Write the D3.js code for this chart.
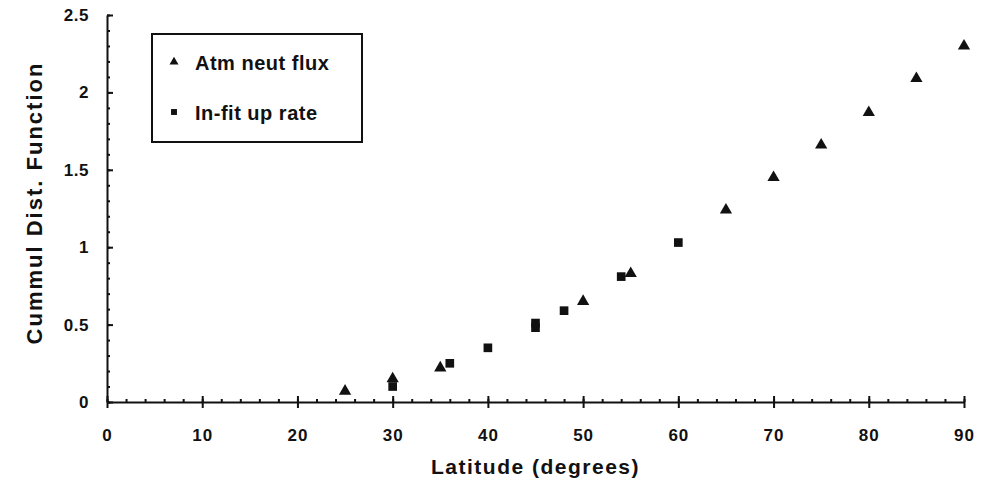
<!DOCTYPE html>
<html>
<head>
    <meta charset="utf-8">
    <script src="https://d3js.org/d3.v7.min.js"></script>
    <style>
        body { margin: 0; background: #fff; }
        text { font-family: "Liberation Sans", Arial, sans-serif; font-weight: bold; fill: #111; }
    </style>
</head>
<body>
<script>

    // Atm neut flux (triangles)
    var fluxLat = [25, 30, 35, 50, 55, 65, 70, 75, 80, 85, 90];
    var fluxCdf = [0.07, 0.15, 0.22, 0.65, 0.83, 1.24, 1.45, 1.66, 1.87, 2.09, 2.30];

    // In-fit up rate (squares)
    var rateLat = [30, 36, 40, 45, 45, 48, 54, 60];
    var rateCdf = [0.10, 0.25, 0.35, 0.48, 0.51, 0.59, 0.81, 1.03];

    var xTicks = [0, 10, 20, 30, 40, 50, 60, 70, 80, 90];
    var yTicks = [0, 0.5, 1, 1.5, 2, 2.5];
    var legendNames = ['Atm neut flux', 'In-fit up rate'];

    var width = 993, height = 485;
    var margin = {left: 107, right: 29, top: 15, bottom: 83};

    var xScale = d3.scaleLinear()
        .domain([0, 90])
        .range([margin.left, width - margin.right]);

    var yScale = d3.scaleLinear()
        .domain([0, 2.5])
        .range([height - margin.bottom, margin.top]);

    var svg = d3.select('body').append('svg')
        .attr('width', width)
        .attr('height', height);

    // minor ticks
    var xMinor = d3.range(0, 91, 2);
    var yMinor = d3.range(0, 2.51, 0.1);

    svg.append('g')
        .attr('transform', 'translate(0,' + yScale(0) + ')')
        .call(d3.axisTop(xScale).tickValues(xMinor).tickSize(3).tickFormat(''))
        .call(function(g) { g.select('.domain').remove(); });

    svg.append('g')
        .attr('transform', 'translate(' + xScale(0) + ',0)')
        .call(d3.axisRight(yScale).tickValues(yMinor).tickSize(3).tickFormat(''))
        .call(function(g) { g.select('.domain').remove(); });

    // major axes
    var gX = svg.append('g')
        .attr('transform', 'translate(0,' + yScale(0) + ')')
        .call(d3.axisBottom(xScale).tickValues(xTicks).tickSizeInner(6).tickSizeOuter(0).tickPadding(21));
    gX.selectAll('.tick line').attr('y1', -6);
    gX.selectAll('text').style('font-size', '17px').style('letter-spacing', '1px');

    var gY = svg.append('g')
        .attr('transform', 'translate(' + xScale(0) + ',0)')
        .call(d3.axisLeft(yScale).tickValues(yTicks).tickSizeInner(6).tickSizeOuter(0).tickPadding(12)
            .tickFormat(function(d) { return d === 2.5 ? '2.5' : d; }));
    gY.selectAll('.tick line').attr('x2', 6);
    gY.selectAll('text').style('font-size', '17px').style('letter-spacing', '0.5px');

    svg.selectAll('.domain, .tick line').attr('stroke', '#111').attr('stroke-width', 2);

    // axis titles
    svg.append('text')
        .attr('x', (xScale(0) + xScale(90)) / 2)
        .attr('y', 474)
        .attr('text-anchor', 'middle')
        .style('font-size', '21px')
        .style('letter-spacing', '1.5px')
        .text('Latitude (degrees)');

    svg.append('text')
        .attr('transform', 'translate(42,' + 203 + ') rotate(-90)')
        .attr('text-anchor', 'middle')
        .style('font-size', '22px')
        .style('letter-spacing', '2px')
        .text('Cummul Dist. Function');

    var tri = d3.symbol().type(d3.symbolTriangle).size(65);
    var sq = d3.symbol().type(d3.symbolSquare).size(75);

    svg.append('g').selectAll('path').data(rateLat)
        .enter().append('path')
        .attr('d', sq)
        .attr('transform', function(d, i) { return 'translate(' + xScale(d) + ',' + yScale(rateCdf[i]) + ')'; })
        .attr('fill', '#111');

    svg.append('g').selectAll('path').data(fluxLat)
        .enter().append('path')
        .attr('d', tri)
        .attr('transform', function(d, i) { return 'translate(' + xScale(d) + ',' + yScale(fluxCdf[i]) + ')'; })
        .attr('fill', '#111');

    // legend
    var lg = svg.append('g');
    lg.append('rect')
        .attr('x', 152).attr('y', 34)
        .attr('width', 210).attr('height', 108)
        .attr('fill', 'none').attr('stroke', '#111').attr('stroke-width', 2);
    lg.append('path').attr('d', d3.symbol().type(d3.symbolTriangle).size(35))
        .attr('transform', 'translate(174,62)').attr('fill', '#111');
    lg.append('path').attr('d', d3.symbol().type(d3.symbolSquare).size(35))
        .attr('transform', 'translate(174,112)').attr('fill', '#111');
    lg.selectAll('text.lab').data(legendNames)
        .enter().append('text')
        .attr('class', 'lab')
        .attr('x', 195)
        .attr('y', function(d, i) { return 70 + i * 50; })
        .style('font-size', '20px')
        .style('letter-spacing', '0.5px')
        .text(function(d) { return d; });

</script>
</body>
</html>
